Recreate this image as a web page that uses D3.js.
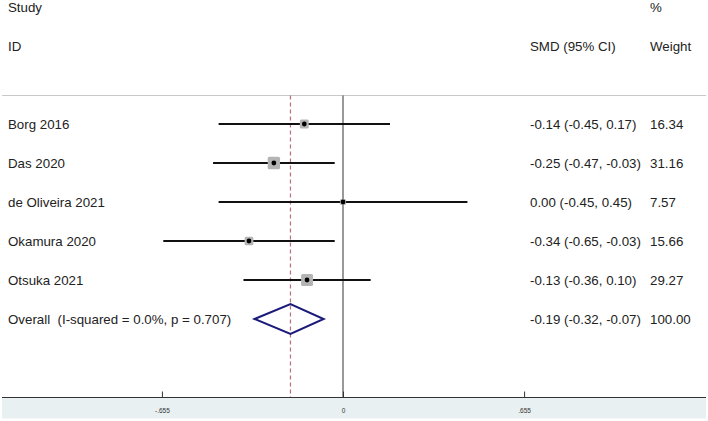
<!DOCTYPE html>
<html><head><meta charset="utf-8">
<script src="https://cdn.jsdelivr.net/npm/d3@7"></script>
<style>body{margin:0;background:#fff}svg{display:block}text{font-family:"Liberation Sans",Arial,sans-serif}</style>
</head><body>
<svg id="c" width="708" height="421"></svg>
<script>
const studies = ["Borg 2016","Das 2020","de Oliveira 2021","Okamura 2020","Otsuka 2021"];
const smd = [-0.14,-0.25,0.00,-0.34,-0.13];
const lower = [-0.45,-0.47,-0.45,-0.65,-0.36];
const upper = [0.17,-0.03,0.45,-0.03,0.10];
const ciText = ["-0.14 (-0.45, 0.17)","-0.25 (-0.47, -0.03)","0.00 (-0.45, 0.45)","-0.34 (-0.65, -0.03)","-0.13 (-0.36, 0.10)"];
const weights = ["16.34","31.16","7.57","15.66","29.27"];
const overallLabel = "Overall  (I-squared = 0.0%, p = 0.707)";
const overall = {est:-0.19, lo:-0.32, hi:-0.07, text:"-0.19 (-0.32, -0.07)", weight:"100.00"};
const tickValues = [-0.655, 0, 0.655];
const tickLabels = ["-.655","0",".655"];

const FS = 13.3;
const svg = d3.select("#c");
const x = d3.scaleLinear().domain([-0.655,0.655]).range([161.9,524.1]);
const rowNames = studies.concat(["Overall"]);
const y = d3.scalePoint().domain(rowNames).range([124,319]);
const size = d3.scaleSqrt().domain([0,31.16]).range([0,12.3]);

// bottom band
svg.append("rect").attr("x",2).attr("y",397.5).attr("width",704).attr("height",21).attr("fill","#e8f0f2");
// top grey rule
svg.append("line").attr("x1",2).attr("x2",706).attr("y1",95.5).attr("y2",95.5).attr("stroke","#c8c8c8").attr("stroke-width",1);

// headers
const hdr = [["Study",8,12],["ID",8,51],["%",650,12],["Weight",650,51],["SMD (95% CI)",530,51]];
svg.selectAll("text.h").data(hdr).join("text").attr("class","h")
  .attr("x",d=>d[1]).attr("y",d=>d[2]).attr("font-size",FS).attr("fill","#222").text(d=>d[0]);

// zero line
svg.append("line").attr("x1",x(0)).attr("x2",x(0)).attr("y1",95.5).attr("y2",397.5).attr("stroke","#555").attr("stroke-width",1.2);
// overall dashed line
svg.append("line").attr("x1",x(overall.est)).attr("x2",x(overall.est)).attr("y1",95.5).attr("y2",397.5)
  .attr("stroke","#b8707a").attr("stroke-width",1.2).attr("stroke-dasharray","4,3");

// CI lines
svg.selectAll("line.ci").data(studies).join("line").attr("class","ci")
  .attr("x1",(d,i)=>x(lower[i])).attr("x2",(d,i)=>x(upper[i]))
  .attr("y1",d=>y(d)).attr("y2",d=>y(d)).attr("stroke","#111").attr("stroke-width",1.8);
// boxes
svg.selectAll("rect.box").data(studies).join("rect").attr("class","box")
  .attr("x",(d,i)=>x(smd[i])-size(+weights[i])/2).attr("y",(d,i)=>y(d)-size(+weights[i])/2)
  .attr("width",(d,i)=>size(+weights[i])).attr("height",(d,i)=>size(+weights[i]))
  .attr("rx",1.5).attr("fill","#b4b4b4");
// dots
svg.selectAll("circle.pt").data(studies).join("circle").attr("class","pt")
  .attr("cx",(d,i)=>x(smd[i])).attr("cy",d=>y(d)).attr("r",2.4).attr("fill","#000");

// diamond
const yo = y("Overall");
svg.append("path").attr("d",`M${x(overall.lo)},${yo}L${x(overall.est)},${yo-15}L${x(overall.hi)},${yo}L${x(overall.est)},${yo+15}Z`)
  .attr("fill","none").attr("stroke","#1a1a7a").attr("stroke-width",2);

// row labels
svg.selectAll("g.lab").data(studies.map((s,i)=>[s,ciText[i],weights[i]]).concat([[overallLabel,overall.text,overall.weight]]))
  .join(enter=>{
    const g = enter.append("g").attr("class","lab").attr("transform",(d,i)=>`translate(0,${y(rowNames[i])+4.5})`);
    g.append("text").attr("x",8).attr("font-size",FS).attr("fill","#222").attr("xml:space","preserve").text(d=>d[0]);
    g.append("text").attr("x",530).attr("font-size",FS).attr("fill","#222").text(d=>d[1]);
    g.append("text").attr("x",650).attr("font-size",FS).attr("fill","#222").text(d=>d[2]);
    return g;
  });

// axis
const axis = d3.axisBottom(x).tickValues(tickValues).tickFormat((d,i)=>tickLabels[i]).tickSize(6).tickPadding(3);
const ga = svg.append("g").attr("transform","translate(0,397.5)").call(axis);
ga.select(".domain").attr("d","M2,0H706").attr("stroke","#333").attr("stroke-width",1.2);
ga.selectAll(".tick line").attr("stroke","#333").attr("y1",-6).attr("y2",0);
ga.selectAll(".tick text").attr("font-size",6.5).attr("fill","#333").attr("y",11).attr("font-family","Liberation Sans, Arial, sans-serif");
</script>
</body></html>
